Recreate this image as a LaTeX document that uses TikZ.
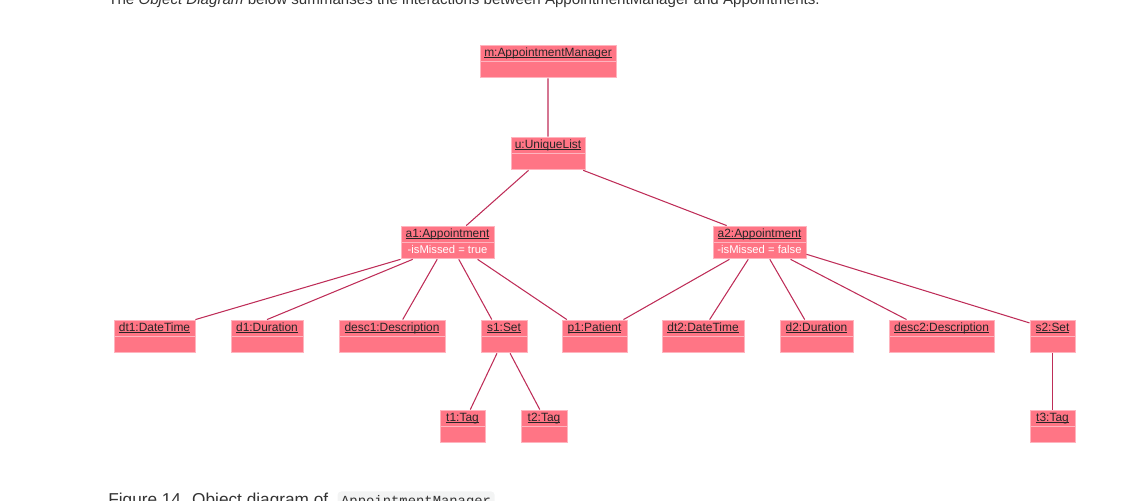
\documentclass[tikz,border=0pt]{standalone}
\usepackage{fontspec}
\setmainfont{Liberation Sans}
\setmonofont{Liberation Mono}
\usetikzlibrary{calc}
\definecolor{objpink}{RGB}{255,117,133}
\definecolor{objedge}{RGB}{255,180,190}
\definecolor{linkred}{RGB}{190,45,88}
\definecolor{inktext}{RGB}{51,51,51}
\definecolor{codebg}{RGB}{243,244,244}
% underlined object name, rule at a fixed depth
\newcommand{\objname}[1]{\setbox0\hbox{#1}\rlap{\rule[-1.1pt]{\wd0}{0.45pt}}\box0}

\begin{document}
\begin{tikzpicture}[x=0.02cm,y=-0.02cm,
  objhead/.style={draw=objedge,fill=objpink,line width=0.5pt,inner sep=0pt,
    minimum height=0.32cm,text height=5pt,text depth=1.5pt,text=black!85,
    font=\fontsize{6.8}{8}\selectfont},
  objbody/.style={draw=objedge,fill=objpink,line width=0.5pt,inner sep=0pt,
    minimum height=0.32cm,text height=4.6pt,text depth=1.4pt,anchor=north,text=white,
    font=\fontsize{6.4}{8}\selectfont},
  link/.style={draw=linkred,line width=0.6pt}]
\useasboundingbox (0,0) rectangle (1121,500);
\clip (0,0) rectangle (1121,500);

% text round the figure (cut off by the frame)
\node[anchor=base west,inner sep=0pt,text=inktext,font=\fontsize{8.6}{10}\selectfont] (intro) at (108,5)
  {The \textit{Object Diagram} below summarises the interactions between AppointmentManager and Appointments.};
\node[anchor=base west,inner sep=0pt,text=inktext,font=\fontsize{9.8}{12}\selectfont] (figcap) at (108,505)
  {Figure 14. Object diagram of};
\node[anchor=base west,fill=codebg,rounded corners=2pt,inner sep=2pt,text=inktext,
  font=\ttfamily\fontsize{7.9}{9}\selectfont] (figcode) at ([xshift=5pt]figcap.base east) {AppointmentManager};

% objects with an empty compartment
\foreach \n/\x/\y/\w/\lbl in {mgr/548/53/136/m:AppointmentManager, uniq/548/145/74/u:UniqueList,
    dt1/154.5/328/81/dt1:DateTime, d1/267/328/72/d1:Duration, desc1/392/328/106/desc1:Description,
    s1/504/328/46/s1:Set, p1/594.5/328/65/p1:Patient, dt2/703/328/82/dt2:DateTime,
    d2/816.5/328/73/d2:Duration, desc2/941.5/328/105/desc2:Description, s2/1052.5/328/45/s2:Set,
    t1/462.5/418/45/t1:Tag, t2/544/418/46/t2:Tag, t3/1052.5/418/45/t3:Tag} {
  \node[objhead,minimum width=\w*0.02cm] (\n) at (\x,\y) {\objname{\lbl}};
  \node[objbody,minimum width=\w*0.02cm] (\n-b) at (\n.south) {};
}

% appointments
\node[objhead,minimum width=93*0.02cm] (a1) at (447.5,234) {\objname{a1:Appointment}};
\node[objbody,minimum width=93*0.02cm] (a1-b) at (a1.south) {-isMissed = true};
\node[objhead,minimum width=93*0.02cm] (a2) at (759.5,234) {\objname{a2:Appointment}};
\node[objbody,minimum width=93*0.02cm] (a2-b) at (a2.south) {-isMissed = false};

% links
\foreach \s/\fs/\t/\ft in {mgr-b/0.5/uniq/0.5, uniq-b/0.24/a1/0.7, uniq-b/0.97/a2/0.15,
    a1-b/0/dt1/1, a1-b/0.13/d1/0.5, a1-b/0.39/desc1/0.6, a1-b/0.62/s1/0.24, a1-b/0.82/p1/0.08,
    a2-b/0.18/p1/0.94, a2-b/0.38/dt2/0.58, a2-b/0.61/d2/0.34, a2-b/0.83/desc2/0.17,
    s1-b/0.35/t1/0.67, s1-b/0.63/t2/0.41, s2-b/0.5/t3/0.5}
  \draw[link] ($(\s.south west)!\fs!(\s.south east)$) -- ($(\t.north west)!\ft!(\t.north east)$);
\draw[link] ($(a2-b.north east)!0.7!(a2-b.south east)$) -- ($(s2.north west)!0.2!(s2.south west)$);
\end{tikzpicture}
\end{document}
